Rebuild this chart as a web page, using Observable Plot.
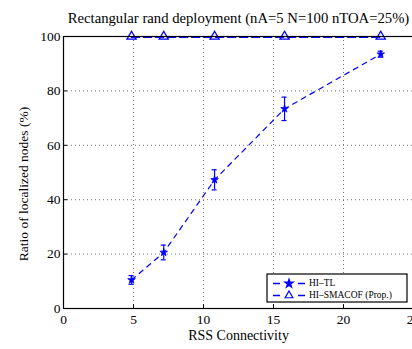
<!DOCTYPE html>
<html>
<head>
<meta charset="utf-8">
<script src="https://cdn.jsdelivr.net/npm/d3@7"></script>
<script src="https://cdn.jsdelivr.net/npm/@observablehq/plot@0.6"></script>
<style>
  html, body { margin: 0; padding: 0; background: #fff; }
  #chart { width: 412px; height: 349px; overflow: hidden; }
</style>
</head>
<body>
<div id="chart"></div>
<script>
// Data
const connectivity = [4.86, 7.16, 10.79, 15.79, 22.66];
const hiTL = [10.5, 20.6, 47.3, 73.4, 93.5];
const hiTLErr = [1.6, 2.7, 3.7, 4.3, 1.1];
const hiSMACOF = [100, 100, 100, 100, 100];
const xTicks = [0, 5, 10, 15, 20, 25];
const yTicks = [0, 20, 40, 60, 80, 100];
const seriesNames = ["HI\u2013TL", "HI\u2013SMACOF (Prop.)"];
const titleText = "Rectangular rand deployment (nA=5 N=100 nTOA=25%)";
const xLabel = "RSS Connectivity";
const yLabel = "Ratio of localized nodes (%)";

const tl = connectivity.map((x, i) => ({x, y: hiTL[i], lo: hiTL[i] - hiTLErr[i], hi: hiTL[i] + hiTLErr[i]}));
const sm = connectivity.map((x, i) => ({x, y: hiSMACOF[i]}));
const capHalf = 0.18;

const blue = "#0000ff";
const font = "'Liberation Serif', 'Times New Roman', serif";

const plot = Plot.plot({
  width: 412,
  height: 349,
  marginLeft: 63,
  marginRight: -1,
  marginTop: 36,
  marginBottom: 41,
  style: {fontFamily: font, fontSize: "14px", background: "#fff", overflow: "visible"},
  x: {domain: [0, 25]},
  y: {domain: [0, 100]},
  marks: [
    Plot.gridX(xTicks, {stroke: "#777", strokeOpacity: 1, strokeDasharray: "1,3"}),
    Plot.gridY(yTicks, {stroke: "#777", strokeOpacity: 1, strokeDasharray: "1,3"}),
    Plot.axisX({ticks: xTicks, tickSize: 0, tickPadding: 6, label: null, fontSize: 13.5}),
    Plot.axisY({ticks: yTicks, tickSize: 0, tickPadding: 3, label: null, fontSize: 13.5}),
    Plot.ruleX(xTicks.slice(1, -1), {x: d => d, y1: 0, y2: 1.4, stroke: "black"}),
    Plot.ruleY(yTicks.slice(1, -1), {y: d => d, x1: 0, x2: 0.3, stroke: "black"}),
    // HI-TL
    Plot.line(tl, {x: "x", y: "y", stroke: blue, strokeWidth: 1.2, strokeDasharray: "5,5"}),
    Plot.ruleX(tl, {x: "x", y1: "lo", y2: "hi", stroke: blue, strokeWidth: 1.2}),
    Plot.ruleY(tl, {y: "lo", x1: d => d.x - capHalf, x2: d => d.x + capHalf, stroke: blue, strokeWidth: 1.2}),
    Plot.ruleY(tl, {y: "hi", x1: d => d.x - capHalf, x2: d => d.x + capHalf, stroke: blue, strokeWidth: 1.2}),
    Plot.dot(tl, {x: "x", y: "y", symbol: "star", r: 2.4, fill: blue, stroke: blue, strokeWidth: 0.8}),
    // HI-SMACOF
    Plot.line(sm, {x: "x", y: "y", stroke: blue, strokeWidth: 1.6, strokeDasharray: "8,4", dy: 0.6}),
    Plot.dot(sm, {x: "x", y: "y", symbol: "triangle", r: 3.4, fill: "none", stroke: blue, strokeWidth: 1.3}),
    Plot.frame({stroke: "black", strokeWidth: 1.2}),
    // Title and labels
    Plot.text([titleText], {frameAnchor: "top", text: d => d, dy: -18, lineAnchor: "middle", fontSize: 14.7, fill: "black"}),
    Plot.text([xLabel], {frameAnchor: "bottom", text: d => d, dy: 27, lineAnchor: "middle", fontSize: 14, fill: "black"})
  ]
});

document.getElementById("chart").appendChild(plot);

// Y label and legend appended via d3
const svg = d3.select(plot);
svg.append("text")
  .attr("transform", "translate(25,184) rotate(-90)")
  .attr("text-anchor", "middle")
  .attr("dominant-baseline", "middle")
  .attr("font-family", font)
  .attr("font-size", 13.5)
  .attr("fill", "black")
  .text(yLabel);

const lg = svg.append("g");
lg.append("rect").attr("x", 267).attr("y", 274).attr("width", 140).attr("height", 28)
  .attr("fill", "white").attr("stroke", "black").attr("stroke-width", 1.2);
const rows = [{y: 283.5, sym: d3.symbolStar, fill: blue, size: 22, name: seriesNames[0]},
              {y: 295.5, sym: d3.symbolTriangle, fill: "none", size: 26, name: seriesNames[1]}];
rows.forEach(r => {
  lg.append("line").attr("x1", 273).attr("x2", 305).attr("y1", r.y).attr("y2", r.y)
    .attr("stroke", blue).attr("stroke-width", 1.4).attr("stroke-dasharray", "7,18");
  lg.append("path").attr("transform", `translate(289,${r.y})`)
    .attr("d", d3.symbol(r.sym, r.size)())
    .attr("fill", r.fill).attr("stroke", blue).attr("stroke-width", 1.2);
  lg.append("text").attr("x", 309).attr("y", r.y).attr("dominant-baseline", "middle")
    .attr("text-anchor", "start")
    .attr("font-family", font).attr("font-size", 9.5).attr("fill", "black").text(r.name);
});
</script>
</body>
</html>
